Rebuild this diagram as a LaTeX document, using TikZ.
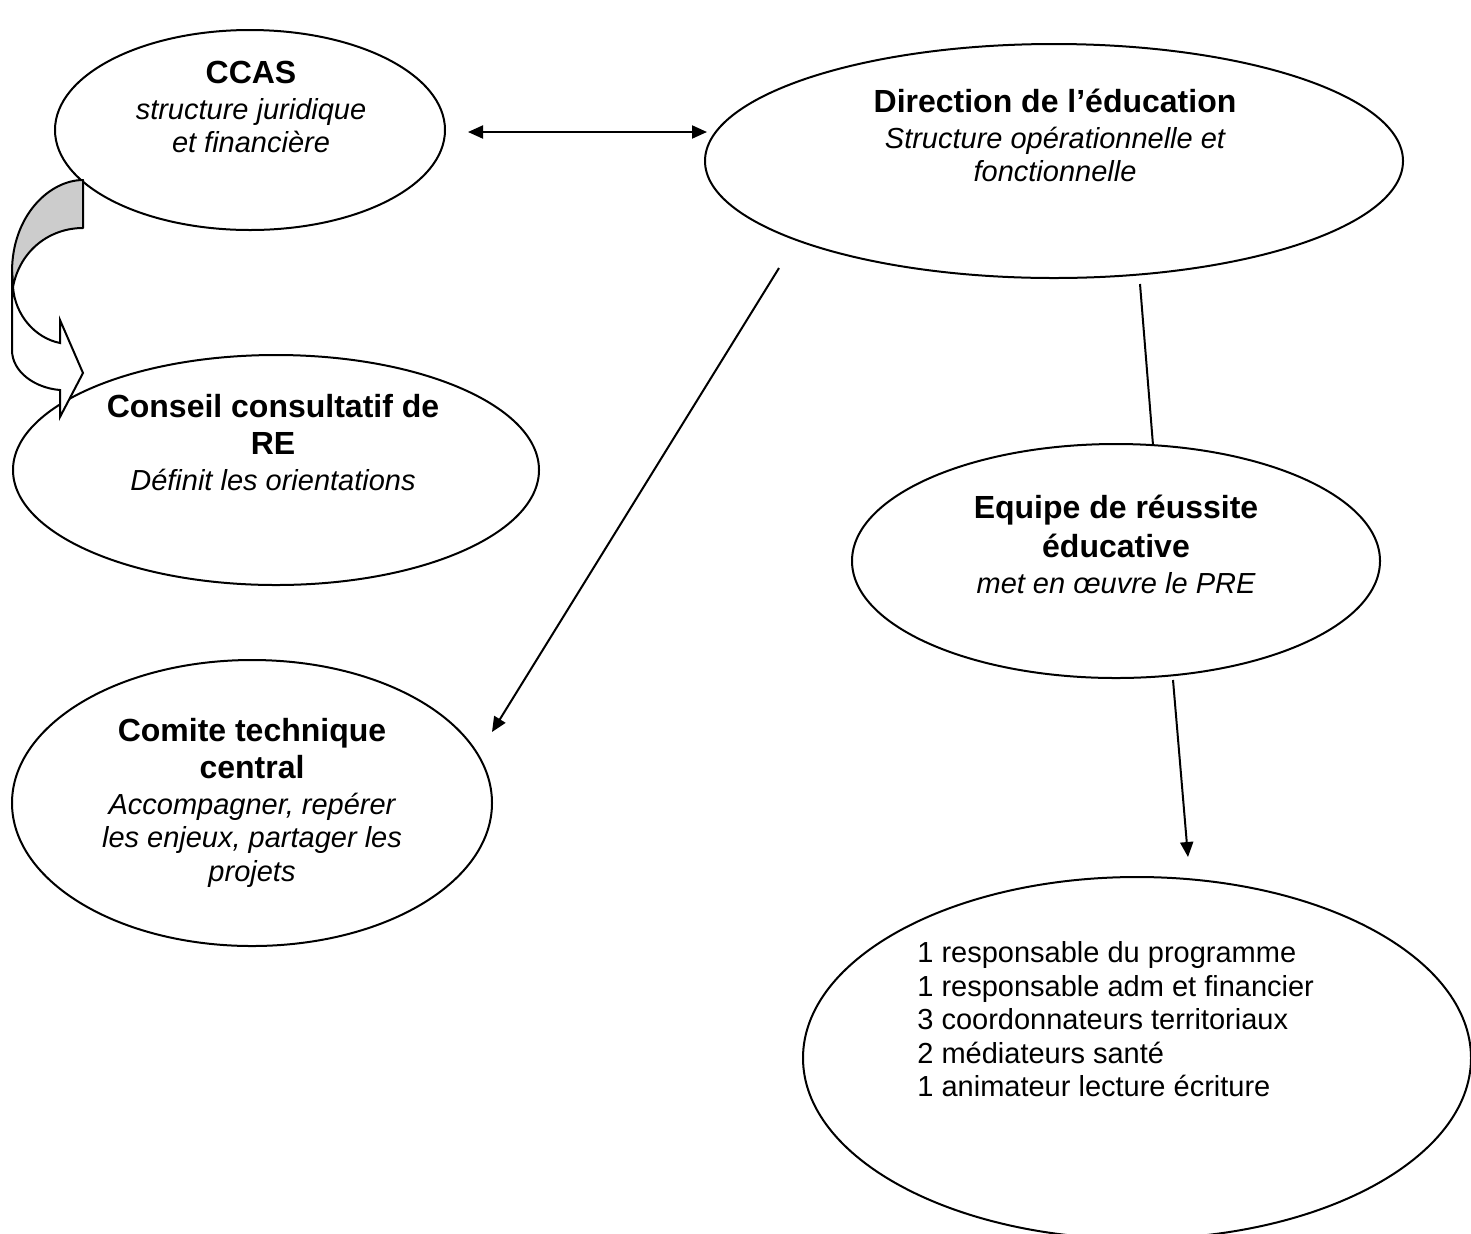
\documentclass[tikz,border=0pt]{standalone}
\usepackage{fontspec}
\setmainfont{Liberation Sans}
\usetikzlibrary{shapes.geometric,arrows.meta}
\newcommand\mytitle[1]{{\fontsize{16pt}{18.5pt}\selectfont\bfseries #1}}
\newcommand\mysub[1]{{\itshape #1}}
\begin{document}
\begin{tikzpicture}[x=0.5pt,y=-0.5pt,
  bubble/.style={draw,ellipse,line width=1pt,inner sep=0pt},
  txt/.style={align=center,inner sep=0pt,anchor=north,font=\fontsize{14.5pt}{16.75pt}\selectfont},
  conn/.style={line width=1pt},
  tipend/.style={-{Triangle[length=7.5pt,width=6.5pt]}},
  tipboth/.style={{Triangle[length=7.5pt,width=6.5pt]}-{Triangle[length=7.5pt,width=6.5pt]}},
  bandback/.style={draw,line width=1pt,fill=black!20,line join=round},
  bandfront/.style={draw,line width=1pt,fill=white,line join=miter}
]
\path[use as bounding box] (0,0) rectangle (1471,1233);
\clip (0,0) rectangle (1471,1233);

% ellipses
\node[bubble,minimum width=195pt,minimum height=100pt] (ccas) at (250,130) {};
\node[bubble,minimum width=349pt,minimum height=117pt] (dir) at (1054,161) {};
\node[bubble,minimum width=263pt,minimum height=115pt] (conseil) at (276,470) {};
\node[bubble,minimum width=264pt,minimum height=117pt] (equipe) at (1116,561) {};
\node[bubble,minimum width=240pt,minimum height=143pt] (comite) at (252,803) {};
\node[bubble,minimum width=334pt,minimum height=181pt] (liste) at (1137,1058) {};

% texts
\node[txt] (tccas) at (251,60) {\strut\mytitle{CCAS}\\[0.9pt]\mysub{structure juridique}\\\mysub{et financière}};
\node[txt] (tdir) at (1055,89) {\strut\mytitle{Direction de l’éducation}\\[0.9pt]\mysub{Structure opérationnelle et}\\\mysub{fonctionnelle}};
\node[txt] (tconseil) at (273,394) {\strut\mytitle{Conseil consultatif de}\\[1.75pt]\mytitle{RE}\\[0.9pt]\mysub{Définit les orientations}};
\node[txt] (tequipe) at (1116,495) {\strut\mytitle{Equipe de réussite}\\[1.75pt]\mytitle{éducative}\\[0.9pt]\mysub{met en œuvre le PRE}};
\node[txt] (tcomite) at (252,718) {\strut\mytitle{Comite technique}\\[1.75pt]\mytitle{central}\\[0.9pt]\mysub{Accompagner, repérer}\\\mysub{les enjeux, partager les}\\\mysub{projets}};
\node[txt,align=left,anchor=north west] (tliste) at (917,939) {\strut 1 responsable du programme\\1 responsable adm et financier\\3 coordonnateurs territoriaux\\2 médiateurs santé\\1 animateur lecture écriture};

% connector end points
\coordinate (a1) at (468,132);
\coordinate (a2) at (707,132);
\coordinate (d1) at (779,268);
\coordinate (c1) at (492,732);
\coordinate (d2) at (1140,284);
\coordinate (e1) at (1153,445);
\coordinate (e2) at (1173,680);
\coordinate (l1) at (1188,857);

\draw[conn,tipboth] (a1) -- (a2);
\draw[conn,tipend] (d1) -- (c1);
\draw[conn] (d2) -- (e1);
\draw[conn,tipend] (e2) -- (l1);

% curved arrow from CCAS to Conseil
\path[bandback] (83,180) .. controls (50,180) and (12,215) .. (12,272)
   -- (13,287) .. controls (20,250) and (50,228) .. (83,228) -- cycle;
\path[bandfront] (12,272) -- (12,350) .. controls (12,372) and (35,388) .. (60,390)
   -- (60,417) -- (83,373) -- (60,320) -- (60,343)
   .. controls (35,338) and (15,315) .. (13,287) -- cycle;
\end{tikzpicture}
\end{document}
